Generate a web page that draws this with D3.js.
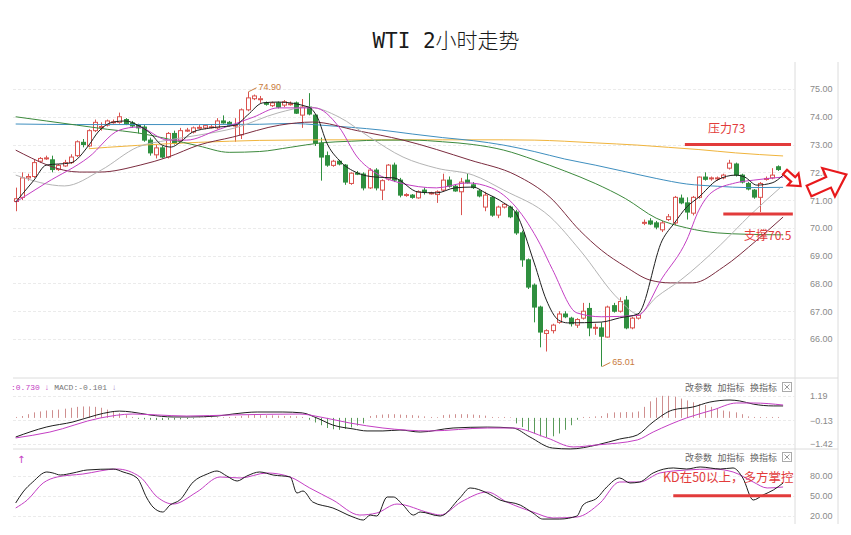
<!DOCTYPE html>
<html>
<head>
<meta charset="utf-8">
<script src="https://cdnjs.cloudflare.com/ajax/libs/d3/7.8.5/d3.min.js"></script>
<style>
  body { margin: 0; background: #fff; }
  svg { display: block; }
</style>
</head>
<body>
<svg width="851" height="535"></svg>
<script>
//candles, 2h bars
const opens = [70.95,71.1,71.8,71.85,72.4,72.5,72.45,72.1,72.23,72.35,
  72.6,73.08,72.95,73.5,73.63,73.7,73.8,73.8,73.9,73.78,
  73.7,73.63,73.16,72.63,72.88,72.55,73.4,73.15,73.5,73.45,
  73.6,73.6,73.63,73.6,73.85,73.8,73.68,73.35,74.25,74.65,
  74.62,74.5,74.4,74.5,74.42,74.45,74.5,74.06,74.35,74.06,
  73.05,72.6,72.25,72.4,72.26,71.6,71.97,71.94,71.44,72.08,
  71.36,71.76,72.26,71.72,71.18,71.18,71.08,71.36,71.25,71.2,
  71.36,71.72,71.5,71.3,71.72,71.55,71.33,70.75,71.1,70.46,
  70.75,70.75,70.57,69.82,68.85,67.94,67.15,66.2,66.3,66.6,
  66.9,66.75,66.5,66.75,67.1,66.4,66.4,66.07,67.2,67.0,
  67.4,66.4,66.75,70.2,70.25,70.18,69.93,70.3,70.18,71.07,
  70.9,70.53,71.1,71.83,71.78,71.78,71.8,72.15,72.3,71.9,
  71.6,71.36,71.1,71.75,71.8,72.2];
const highs = [71.45,72.0,71.95,72.45,72.55,72.6,72.6,72.3,72.45,72.65,
  73.15,73.2,73.55,73.9,73.8,73.9,73.9,74.15,73.95,73.85,
  73.75,73.7,73.25,73.0,72.95,73.45,73.5,73.6,73.6,73.65,
  73.7,73.7,73.7,73.95,74.05,73.85,73.95,74.3,74.9,74.8,
  74.75,74.55,74.55,74.55,74.6,74.55,74.55,74.64,74.85,74.1,
  73.25,72.75,72.45,72.45,72.3,72.0,72.05,72.0,72.15,72.15,
  71.75,72.3,72.35,71.8,71.25,71.22,71.35,71.45,71.3,71.35,
  71.95,71.85,71.55,71.8,71.95,71.65,71.4,71.3,71.15,70.8,
  70.9,70.8,70.65,69.9,68.9,68.0,67.2,66.35,66.55,67.0,
  67.0,66.8,66.75,67.3,67.3,66.55,66.6,67.2,67.3,67.5,
  67.55,66.8,66.9,70.3,70.35,70.25,70.25,70.5,71.15,71.2,
  71.1,71.15,71.85,72.0,71.85,71.85,71.95,72.45,72.35,71.95,
  71.65,71.4,71.65,71.85,72.15,72.25];
const lows = [70.6,71.0,71.7,71.8,72.35,72.45,72.0,72.05,72.2,72.3,
  72.55,72.9,72.9,73.45,73.5,73.65,73.75,73.75,73.7,73.6,
  73.4,73.1,72.6,72.5,72.5,72.5,73.0,73.1,73.45,73.4,
  73.55,73.55,73.58,73.55,73.75,73.65,73.1,73.2,74.2,74.6,
  74.5,74.4,74.35,74.3,74.35,74.4,74.1,73.6,74.05,72.95,
  71.7,72.2,72.2,72.25,71.55,71.55,71.9,71.35,71.4,71.35,
  71.0,71.7,71.65,71.1,71.12,71.05,71.05,71.2,71.2,70.9,
  71.3,71.45,71.3,70.46,71.6,71.4,71.1,70.6,70.4,70.35,
  70.7,70.35,69.75,68.6,67.8,66.6,65.7,65.55,66.2,66.55,
  66.75,66.45,66.4,66.7,66.1,66.15,65.01,66.05,66.95,66.95,
  66.35,66.35,66.7,70.1,70.1,69.95,69.85,70.25,70.1,70.85,
  70.3,70.45,71.05,71.7,71.7,71.7,71.75,72.1,71.85,71.6,
  71.35,71.05,70.57,71.7,71.75,72.05];
const closes = [71.05,71.8,71.85,72.35,72.5,72.52,72.1,72.25,72.35,72.55,
  73.1,73.0,73.5,73.8,73.65,73.85,73.82,74.0,73.75,73.67,
  73.6,73.16,72.7,72.88,72.55,73.4,73.05,73.5,73.52,73.6,
  73.62,73.68,73.64,73.85,73.78,73.7,73.7,74.25,74.68,74.75,
  74.65,74.45,74.5,74.35,74.54,74.47,74.13,74.35,74.1,73.05,
  72.55,72.26,72.4,72.3,71.65,71.97,71.95,71.44,72.08,71.44,
  71.7,72.26,71.72,71.18,71.2,71.1,71.3,71.28,71.26,71.3,
  71.72,71.5,71.33,71.65,71.62,71.45,71.15,71.18,70.46,70.75,
  70.85,70.4,69.82,68.85,67.87,67.15,66.25,66.3,66.5,66.9,
  66.8,66.55,66.7,67.0,66.4,66.42,66.1,67.15,67.0,67.35,
  66.4,66.75,66.85,70.2,70.14,70.03,70.18,70.4,71.1,70.9,
  70.57,71.1,71.83,71.75,71.8,71.8,71.9,72.33,71.9,71.65,
  71.4,71.11,71.6,71.78,71.9,72.1];

//moving averages, [bar index, price]
const ma5 = [[0,70.93],[3,71.72],[5,72.26],[9,72.34],[12,72.98],[13.5,73.45],[16,73.81],[18,73.85],[20,73.7],[22,73.42],
  [24,72.98],[25.5,72.91],[27,73.09],[29,73.45],[32,73.6],[36,73.7],[38,74.06],[40.5,74.5],[43,74.53],[48,74.35],
  [49.5,73.96],[51,73.06],[53,72.44],[56,71.98],[59,71.83],[62,71.8],[66,71.29],[69,71.26],[72,71.44],[75,71.47],
  [77,71.26],[80,70.9],[82,70.54],[85,68.74],[87,67.4],[89,66.68],[90.5,66.58],[96,66.61],[99,66.76],[102,66.9],
  [106,69.56],[108,70.18],[110,70.75],[112,71.11],[115,71.72],[118,71.9],[119.5,71.83],[121.5,71.54],[124,71.62],[125.8,71.9]];
const ma10 = [[0,70.93],[5,71.62],[12,72.55],[17,73.52],[20,73.63],[25,73.16],[28,73.16],[33,73.52],[39,73.99],[43,74.32],
  [49,74.32],[53,73.63],[56,72.55],[59,71.98],[63,71.62],[69,71.44],[74,71.62],[78,71.44],[82,70.75],[86,69.4],
  [88,68.5],[92,66.94],[96,66.8],[102,66.85],[106,68.2],[110,69.56],[112,70.64],[114,71.26],[118,71.62],[121,71.72],[125.8,71.83]];
const ma20 = [[0,71.9],[8,71.51],[14,72.08],[20,72.91],[25,73.16],[30,73.34],[36,73.6],[43,74.14],[48,74.35],[53,73.99],
  [58,73.27],[63.5,72.55],[69,72.15],[75,71.9],[80,71.36],[87.6,70.4],[92.5,69.2],[99,67.4],[102,66.9],[105,67.5],
  [109,68.12],[115.5,69.38],[120.4,70.46],[125.3,71.44]];
const ma30 = [[0,72.8],[10.5,72.01],[13.8,72.01],[20.4,72.26],[25,72.55],[30,72.98],[35.6,73.27],[43.3,73.7],[48.7,73.81],[56,73.5],
  [63.5,73.16],[74.5,72.44],[82,71.9],[87.6,71.1],[92.5,69.9],[96,69.2],[100,68.6],[104,68.12],[107.3,68.02],[111,68.02],
  [116,68.59],[121.5,69.56],[125.8,70.39]];
const ma60 = [[0,74.0],[5,73.85],[10,73.7],[15,73.55],[20,73.42],[25,73.2],[30,72.95],[35,72.72],[40,72.75],[45,72.9],
  [50,73.06],[55,73.12],[60,73.16],[65,73.16],[70,73.1],[75,73.0],[80,72.8],[85,72.45],[90,72.05],[95,71.6],
  [100,71.05],[105,70.35],[110,70.0],[115,69.82],[120,69.77],[125.8,69.75]];
const ma120 = [[0,73.74],[10,73.72],[20,73.72],[30,73.72],[40,73.73],[45,73.76],[50,73.7],[55,73.62],[60,73.52],[65,73.38],
  [70,73.25],[75,73.14],[80,72.98],[85,72.75],[90,72.48],[95,72.26],[100,72.02],[105,71.78],[110,71.58],[115,71.5],
  [120,71.45],[125.8,71.46]];
const ma250 = [[12,72.85],[15,72.9],[20,72.97],[25,73.03],[30,73.08],[35,73.12],[40,73.15],[45,73.16],[50,73.17],[60,73.17],
  [70,73.17],[80,73.17],[85,73.16],[90,73.12],[95,73.06],[102,72.98],[107,72.9],[112,72.82],[118,72.7],[125.8,72.59]];

//MACD
const macdDif = [[0,-1.04],[5,-0.5],[9.4,-0.22],[13.3,0.16],[15.5,0.32],[17,0.37],[19,0.32],[22,0.16],[25.8,0.05],[28.6,0.05],
  [33,0.1],[35.6,0.21],[39.6,0.32],[43.8,0.32],[47,0.27],[49.4,-0.01],[52,-0.39],[55.3,-0.6],[57.6,-0.71],[60.2,-0.71],
  [63,-0.66],[66.3,-0.77],[71.7,-0.55],[77.3,-0.5],[81.5,-0.55],[84.3,-1.04],[88,-1.64],[90.9,-1.69],[95.3,-1.47],[99,-1.15],
  [101.9,-0.93],[104.5,-0.22],[107.7,0.43],[111,0.59],[113.8,0.86],[117.1,0.97],[118.7,0.92],[120.9,0.75],[124.2,0.65],[125.8,0.65]];
const macdDea = [[0,-1.09],[5.6,-0.77],[13.8,-0.01],[19.2,0.21],[23.2,0.16],[28,0.1],[35.6,0.16],[46.6,0.21],[49.9,0.05],[54.8,-0.28],
  [60.2,-0.55],[67.9,-0.71],[77.3,-0.55],[81.5,-0.55],[87.1,-1.09],[91.4,-1.58],[95.3,-1.47],[101.9,-1.2],[104.5,-0.77],[110,0.0],
  [114.3,0.43],[118.2,0.81],[120.9,0.81],[125.8,0.7]];
const macdHist = [0.05,0.1,0.2,0.3,0.35,0.4,0.42,0.45,0.5,0.55,
  0.6,0.62,0.62,0.6,0.55,0.45,0.35,0.25,0.15,0.05,
  -0.05,-0.08,-0.1,-0.12,-0.12,-0.1,-0.1,-0.08,-0.06,-0.04,
  0.02,0.02,0.03,0.03,0.04,0.05,0.06,0.1,0.15,0.16,
  0.15,0.14,0.14,0.12,0.1,0.1,0.08,0.05,-0.1,-0.25,
  -0.4,-0.55,-0.62,-0.65,-0.6,-0.52,-0.42,-0.3,0.1,0.15,
  0.18,0.2,0.2,0.18,0.16,0.15,0.12,0.08,0.05,0.04,
  0.15,0.18,0.2,0.2,0.2,0.18,0.15,0.12,0.05,0.04,
  0.05,0.03,-0.3,-0.5,-0.7,-0.85,-1.0,-1.05,-1.0,-0.85,
  -0.65,-0.4,-0.1,0.05,0.05,0.08,0.1,0.25,0.3,0.3,
  0.32,0.3,0.35,0.6,0.9,1.1,1.2,1.2,1.15,1.05,
  0.95,0.85,0.75,0.7,0.6,0.5,0.4,0.35,0.3,0.2,
  0.08,0.05,0.05,0.04,0.05,0.05];

//KD
const kdK = [[0,39],[1.2,55.7],[2.8,70.9],[5.1,86.1],[6.1,84.6],[7.3,81.5],[9.4,84.6],[11.7,89.1],[16,90.6],[17.6,86.1],
  [19.9,77],[21.5,46.6],[22.5,32.9],[24.1,25.3],[25.3,35.9],[26.9,43.5],[29.1,70.9],[31.4,83],[33,87.6],[34.6,80],
  [36.3,72.4],[37.9,80],[40,86.1],[42.2,81.5],[45,78.5],[46.1,54.2],[47.1,57.2],[48.7,40.5],[52,31.4],[55.3,17.7],
  [57,13.1],[58.1,20.7],[59.2,19.2],[60.9,48.1],[61.9,48.1],[63.5,35.9],[65.2,20.7],[66.3,25.3],[69.6,19.2],[72.8,46.6],
  [74.5,61.8],[77.3,54.2],[79.4,43.5],[82.7,35.9],[84.8,23.8],[86.4,14.6],[89.2,14.6],[92,19.2],[93,35.9],[95.3,46.6],
  [96.9,63.3],[99,77],[100.7,69.4],[102.3,70.9],[104.5,84.6],[107.8,92.2],[110,90.6],[112.2,93.7],[115.5,90.6],[117.6,92.2],
  [119.2,77],[120.9,43.5],[122.5,51.1],[124.2,58.7],[125.8,69.4]];
const kdD = [[0,31.4],[1.9,43.5],[4.5,69.4],[6.8,78.5],[11,83],[16.6,90.6],[20.4,78.5],[23.2,48.1],[25.8,37.4],[29.7,55.7],
  [33.5,78.5],[36.8,77],[41.2,84.6],[45,78.5],[48.2,61.8],[52,43.5],[56.4,20.7],[59.2,23.8],[62.5,37.4],[67.9,23.8],
  [69.6,20.7],[73,40.5],[77.3,55.7],[80.5,40.5],[84.8,25.3],[88.1,16.2],[92,17.7],[95.8,39],[99,70.9],[102.3,70.9],
  [105.6,84.6],[110,89.1],[114.3,90.6],[117.6,86.1],[120.9,70.9],[123.2,61.8],[125.8,63.3]];

//tick labels
const priceTicks = [75, 74, 73, 72, 71, 70, 69, 68, 67, 66];
const macdTicks = [1.19, -0.13, -1.42];
const kdTicks = [80, 50, 20];

const svg = d3.select("svg");
const left = 13, plotRight = 795, axisRight = 838;
const red = "#d9534f", green = "#2f8f3f", grid = "#ebebeb", border = "#dcdcdc";
const cjk = "'Noto Sans CJK SC', sans-serif";

//scales
const x = d3.scaleLinear().domain([0, 125]).range([15.7, 778.2]);
const yPrice = d3.scaleLinear().domain([66, 75]).range([339, 89]);
const yMacd = d3.scaleLinear().domain([-1.42, 1.19]).range([444, 396]);
const yKd = d3.scaleLinear().domain([20, 80]).range([515.5, 476]);

//title
svg.append("text")
  .attr("x", 446).attr("y", 48)
  .attr("text-anchor", "middle")
  .style("font-family", "'DejaVu Sans Mono', 'Noto Sans CJK SC', monospace")
  .style("font-size", "21px")
  .style("font-weight", 300)
  .style("fill", "#1a1a1a")
  .text("WTI 2小时走势");

//frame
svg.append("line").attr("x1", plotRight).attr("x2", plotRight).attr("y1", 62).attr("y2", 524).attr("stroke", border);
svg.append("line").attr("x1", axisRight).attr("x2", axisRight).attr("y1", 62).attr("y2", 524).attr("stroke", border);
[378, 449].forEach(yy => {
  svg.append("line").attr("x1", left).attr("x2", axisRight).attr("y1", yy).attr("y2", yy).attr("stroke", border);
});

//gridlines
function gridlines(scale, ticks) {
  svg.append("g").selectAll("line").data(ticks).join("line")
    .attr("x1", left).attr("x2", plotRight)
    .attr("y1", d => Math.round(scale(d)) + 0.5).attr("y2", d => Math.round(scale(d)) + 0.5)
    .attr("stroke", grid).attr("stroke-dasharray", "3,2");
}
gridlines(yPrice, priceTicks);
gridlines(yMacd, macdTicks);
gridlines(yKd, kdTicks);

//axes
function rightAxis(scale, ticks, fmt) {
  const g = svg.append("g")
    .attr("transform", `translate(807,0)`)
    .call(d3.axisRight(scale).tickValues(ticks).tickFormat(fmt).tickSize(0).tickPadding(3));
  g.select(".domain").remove();
  g.selectAll("text")
    .style("font-family", "'Liberation Sans', sans-serif")
    .style("font-size", "9px")
    .style("fill", "#8a8a8a");
}
rightAxis(yPrice, priceTicks, d3.format(".2f"));
rightAxis(yMacd, macdTicks, d3.format(".2f"));
rightAxis(yKd, kdTicks, d3.format(".2f"));

//candles
const candles = d3.range(opens.length).map(i => ({i: i, o: opens[i], h: highs[i], l: lows[i], c: closes[i]}));
const colorOf = d => d.c >= d.o ? red : green;

const candleG = svg.append("g");
candleG.selectAll("line").data(candles).join("line")
  .attr("x1", d => Math.round(x(d.i)) + 0.5).attr("x2", d => Math.round(x(d.i)) + 0.5)
  .attr("y1", d => yPrice(d.h)).attr("y2", d => yPrice(d.l))
  .attr("stroke", colorOf);
candleG.selectAll("rect").data(candles).join("rect")
  .attr("x", d => Math.round(x(d.i)) - 1.5)
  .attr("width", 4)
  .attr("y", d => yPrice(Math.max(d.o, d.c)))
  .attr("height", d => Math.max(1, Math.abs(yPrice(d.o) - yPrice(d.c))))
  .attr("fill", d => d.c >= d.o ? "#fff" : green)
  .attr("stroke", colorOf);

//moving average lines
const priceLine = d3.line().x(d => x(d[0])).y(d => yPrice(d[1])).curve(d3.curveMonotoneX);
const maSeries = [
  [ma250, "#f0b43c"], [ma120, "#3f8fbf"], [ma60, "#3d8a3d"], [ma30, "#7b2c3f"],
  [ma20, "#b4b4b4"], [ma10, "#c43fc4"], [ma5, "#1e1e1e"]
];
maSeries.forEach(s => {
  svg.append("path").datum(s[0]).attr("d", priceLine)
    .attr("fill", "none").attr("stroke", s[1]).attr("stroke-width", 1);
});

//high / low markers
const hiIdx = d3.maxIndex(highs), loIdx = d3.minIndex(lows);
const markColor = "#c97b3d";
svg.append("path")
  .attr("d", `M${x(hiIdx) + 1},${yPrice(highs[hiIdx])} L${x(hiIdx) + 9},${yPrice(highs[hiIdx]) - 4}`)
  .attr("stroke", markColor).attr("fill", "none");
svg.append("text")
  .attr("x", x(hiIdx) + 11).attr("y", yPrice(highs[hiIdx]) - 2)
  .style("font-family", "'Liberation Sans', sans-serif").style("font-size", "9px")
  .style("fill", markColor).text(d3.format(".2f")(highs[hiIdx]));
svg.append("path")
  .attr("d", `M${x(loIdx) + 1},${yPrice(lows[loIdx])} L${x(loIdx) + 9},${yPrice(lows[loIdx]) - 4}`)
  .attr("stroke", markColor).attr("fill", "none");
svg.append("text")
  .attr("x", x(loIdx) + 11).attr("y", yPrice(lows[loIdx]) - 2)
  .style("font-family", "'Liberation Sans', sans-serif").style("font-size", "9px")
  .style("fill", markColor).text(d3.format(".2f")(lows[loIdx]));

//support & resistance notes
const noteRed = "#e23b3b";
const levels = [
  {v: 73, from: 109.7, to: 127.1, label: "压力73", lx: 708, ly: 133},
  {v: 70.5, from: 116, to: 127.4, label: "支撑70.5", lx: 744, ly: 240}
];
levels.forEach(l => {
  svg.append("line")
    .attr("x1", x(l.from)).attr("x2", x(l.to))
    .attr("y1", yPrice(l.v)).attr("y2", yPrice(l.v))
    .attr("stroke", noteRed).attr("stroke-width", 3);
  svg.append("text").attr("x", l.lx).attr("y", l.ly)
    .style("font-family", cjk).style("font-size", "12px").style("fill", noteRed)
    .text(l.label);
});

//hollow block arrows
function blockArrow(tx, ty, angle, s) {
  const pts = [[0,-3],[11,-3],[11,-8],[21,0],[11,8],[11,3],[0,3]].map(p => [p[0] * s, p[1] * s]);
  svg.append("path")
    .attr("d", "M" + pts.join("L") + "Z")
    .attr("transform", `translate(${tx},${ty}) rotate(${angle})`)
    .attr("fill", "#fff").attr("stroke", "#e8191c").attr("stroke-width", 2.2)
    .attr("stroke-linejoin", "miter");
}
blockArrow(785, 172, 42, 1);
blockArrow(809, 191, -24, 1.95);

//MACD panel
const macdLine = d3.line().x(d => x(d[0])).y(d => yMacd(d[1])).curve(d3.curveMonotoneX);
svg.append("g").selectAll("line").data(macdHist).join("line")
  .attr("x1", (d, i) => Math.round(x(i)) + 0.5).attr("x2", (d, i) => Math.round(x(i)) + 0.5)
  .attr("y1", yMacd(0)).attr("y2", d => yMacd(d))
  .attr("stroke", d => d >= 0 ? "#cf8f8f" : "#5a9a5a");
svg.append("path").datum(macdDif).attr("d", macdLine).attr("fill", "none").attr("stroke", "#1e1e1e");
svg.append("path").datum(macdDea).attr("d", macdLine).attr("fill", "none").attr("stroke", "#c43fc4");

const macdHead = svg.append("text").attr("x", 11).attr("y", 390)
  .style("font-family", "'Liberation Mono', monospace").style("font-size", "8px");
macdHead.append("tspan").style("fill", "#c43fc4").text(":0.730 ");
macdHead.append("tspan").style("fill", "#c43fc4").text("↓ ");
macdHead.append("tspan").style("fill", "#777").text("MACD:-0.101 ");
macdHead.append("tspan").style("fill", "#a58ac8").text("↓");

//KD panel
const kdLine = d3.line().x(d => x(d[0])).y(d => yKd(d[1])).curve(d3.curveMonotoneX);
svg.append("path").datum(kdD).attr("d", kdLine).attr("fill", "none").attr("stroke", "#c43fc4");
svg.append("path").datum(kdK).attr("d", kdLine).attr("fill", "none").attr("stroke", "#1e1e1e");
svg.append("text").attr("x", 17).attr("y", 463)
  .style("font-family", "'DejaVu Sans', sans-serif").style("font-size", "10px")
  .style("fill", "#c43fc4").text("↑");

svg.append("line")
  .attr("x1", x(107.8)).attr("x2", x(127.1))
  .attr("y1", yKd(50)).attr("y2", yKd(50))
  .attr("stroke", noteRed).attr("stroke-width", 3);
svg.append("text").attr("x", 663).attr("y", 482)
  .style("font-family", cjk).style("font-size", "12.5px").style("fill", noteRed)
  .text("KD在50以上，多方掌控");

//panel tool buttons
[391, 461].forEach(yy => {
  const g = svg.append("g").style("font-family", cjk).style("font-size", "9px").style("fill", "#666");
  ["改参数", "加指标", "换指标"].forEach((t, k) => {
    g.append("text").attr("x", 685 + k * 32.5).attr("y", yy).text(t);
  });
  g.append("rect").attr("x", 782.5).attr("y", yy - 8.5).attr("width", 9).attr("height", 9)
    .attr("fill", "#fff").attr("stroke", "#aaa");
  g.append("path").attr("d", `M784.5,${yy - 6.5} L789.5,${yy - 1.5} M789.5,${yy - 6.5} L784.5,${yy - 1.5}`)
    .attr("stroke", "#999");
});
</script>
</body>
</html>
